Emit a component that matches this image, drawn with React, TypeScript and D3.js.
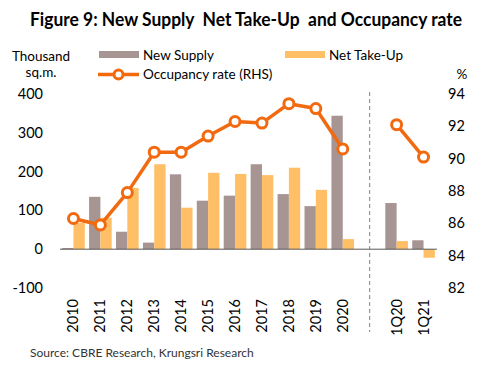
import React from "react";
import * as d3 from "d3";

const categories = ["2010","2011","2012","2013","2014","2015","2016","2017","2018","2019","2020","","1Q20","1Q21"];
const newSupply: (number|null)[] = [3,135,45,17,193,125,138,219,142,111,344,null,119,23];
const netTakeUp: (number|null)[] = [68,81,158,219,107,197,194,191,210,153,26,null,21,-22];
const occupancy: (number|null)[] = [86.3,85.9,87.9,90.4,90.4,91.4,92.3,92.2,93.4,93.1,90.6,null,92.1,90.1];
const leftTicks = [400,300,200,100,0,-100];
const rightTicks = [94,92,90,88,86,84,82];

const FONT = "Lato, 'Open Sans', sans-serif";
const C_SUP = "#a69593";
const C_TAKE = "#ffbf66";
const C_LINE = "#f26a10";

export default function App() {
  const W = 493, H = 370;
  const x0 = 60, x1 = 437, yTop = 94, yBot = 288;
  const x = d3.scaleBand<string>().domain(categories.map((c, i) => i + "")).range([x0, x1]).paddingInner(0).paddingOuter(0);
  const yL = d3.scaleLinear().domain([-100, 400]).range([yBot, yTop]);
  const yR = d3.scaleLinear().domain([82, 94]).range([yBot, yTop]);
  const bw = x.bandwidth();
  const barW = bw * 0.42;
  const line = d3.line<[number, number | null]>()
    .defined(d => d[1] != null)
    .x(d => (x(d[0] + "") as number) + bw / 2)
    .y(d => yR(d[1] as number));
  const lineData: [number, number | null][] = occupancy.map((v, i) => [i, v]);
  const dashX = (x("11") as number) + bw / 2;

  return (
    <svg width={W} height={H} style={{ position: "absolute", left: 0, top: 0, background: "#fff" }}>
      <text x={246} y={26} textAnchor="middle" fontFamily={FONT} fontWeight="bold" fontSize={18} fill="#000" textLength={432} lengthAdjust="spacingAndGlyphs" style={{ whiteSpace: "pre" }}>{"Figure 9: New Supply  Net Take-Up  and Occupancy rate"}</text>

      {/* axis titles */}
      <text x={41} y={61} textAnchor="middle" fontFamily={FONT} fontSize={13.5} fill="#000">Thousand</text>
      <text x={41} y={77} textAnchor="middle" fontFamily={FONT} fontSize={13.5} fill="#000">sq.m.</text>
      <text x={462} y={79} textAnchor="middle" fontFamily={FONT} fontSize={13.5} fill="#000">%</text>

      {/* legend */}
      <rect x={99} y={51} width={40} height={7} fill={C_SUP} />
      <text x={143} y={60} fontFamily={FONT} fontSize={13.5} fill="#000">New Supply</text>
      <rect x={285} y={51} width={40} height={7} fill={C_TAKE} />
      <text x={329} y={60} fontFamily={FONT} fontSize={13.5} fill="#000">Net Take-Up</text>
      <line x1={98} x2={139} y1={74.5} y2={74.5} stroke={C_LINE} strokeWidth={3.5} />
      <circle cx={118.5} cy={74.5} r={4.5} fill="#fff" stroke={C_LINE} strokeWidth={3} />
      <text x={143} y={79} fontFamily={FONT} fontSize={13.5} fill="#000">Occupancy rate (RHS)</text>

      {/* left ticks */}
      {leftTicks.map(t => (
        <text key={"l" + t} x={43} y={yL(t) + 5} textAnchor="end" fontFamily={FONT} fontSize={14.5} fill="#000">{t}</text>
      ))}
      {rightTicks.map(t => (
        <text key={"r" + t} x={448} y={yR(t) + 5} textAnchor="start" fontFamily={FONT} fontSize={14.5} fill="#000">{t}</text>
      ))}

      {/* bars */}
      {categories.map((c, i) => {
        const bx = (x(i + "") as number) + bw / 2;
        const s = newSupply[i], n = netTakeUp[i];
        return (
          <g key={"b" + i}>
            {s != null && <rect x={bx - barW} y={Math.min(yL(s), yL(0))} width={barW} height={Math.abs(yL(s) - yL(0))} fill={C_SUP} />}
            {n != null && <rect x={bx} y={Math.min(yL(n), yL(0))} width={barW} height={Math.abs(yL(n) - yL(0))} fill={C_TAKE} />}
          </g>
        );
      })}

      {/* zero axis */}
      <line x1={x0} x2={x1} y1={yL(0)} y2={yL(0)} stroke="#595959" strokeWidth={1} />

      {/* dashed separator */}
      <line x1={dashX} x2={dashX} y1={92} y2={332} stroke="#7f7f7f" strokeWidth={1} strokeDasharray="4,3" />

      {/* occupancy line */}
      <path d={line(lineData) || ""} fill="none" stroke={C_LINE} strokeWidth={3.5} strokeLinejoin="round" />
      {occupancy.map((v, i) => v == null ? null : (
        <circle key={"c" + i} cx={(x(i + "") as number) + bw / 2} cy={yR(v)} r={5} fill="#fff" stroke={C_LINE} strokeWidth={3} />
      ))}

      {/* x labels */}
      {categories.map((c, i) => c === "" ? null : (
        <text key={"x" + i} transform={`translate(${(x(i + "") as number) + bw / 2 + 5},299) rotate(-90)`} textAnchor="end" fontFamily={FONT} fontSize={14.5} fill="#000">{c}</text>
      ))}

      <text x={30} y={357} fontFamily={FONT} fontSize={12} fill="#333">Source: CBRE Research, Krungsri Research</text>
    </svg>
  );
}
